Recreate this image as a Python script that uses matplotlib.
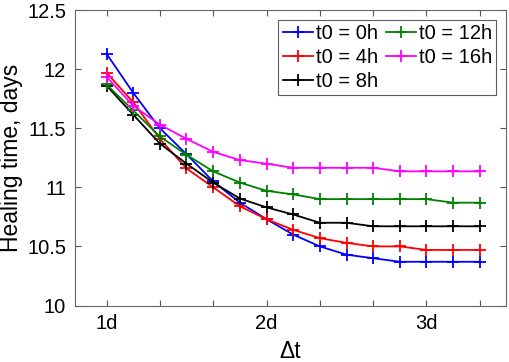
import numpy as np
import matplotlib
matplotlib.use("Agg")
import matplotlib.pyplot as plt

plt.rcParams['font.family'] = ['Liberation Sans', 'DejaVu Sans']

dt = [1 + i / 6 for i in range(15)]
h0 = [12.13, 11.80, 11.50, 11.28, 11.05, 10.87, 10.73, 10.60, 10.50, 10.43, 10.40, 10.37, 10.37, 10.37, 10.37]
h4 = [11.97, 11.72, 11.41, 11.16, 11.00, 10.84, 10.73, 10.64, 10.57, 10.53, 10.50, 10.50, 10.47, 10.47, 10.47]
h8 = [11.86, 11.615, 11.37, 11.20, 11.04, 10.905, 10.83, 10.77, 10.70, 10.70, 10.67, 10.67, 10.67, 10.67, 10.67]
h12 = [11.87, 11.65, 11.43, 11.275, 11.135, 11.04, 10.97, 10.94, 10.90, 10.90, 10.90, 10.90, 10.90, 10.87, 10.87]
h16 = [11.935, 11.69, 11.53, 11.41, 11.30, 11.23, 11.20, 11.165, 11.165, 11.165, 11.165, 11.135, 11.135, 11.135, 11.135]
labels = ['t0 = 0h', 't0 = 4h', 't0 = 8h', 't0 = 12h', 't0 = 16h']
colors = ['#0000ff', '#ff0000', '#000000', '#008000', '#ff00ff']
xtick_vals = [1, 4 / 3, 5 / 3, 2, 7 / 3, 8 / 3, 3, 10 / 3]
xtick_labels = ['1d', '', '', '2d', '', '', '3d', '']
ytick_vals = [10, 10.5, 11, 11.5, 12, 12.5]
ytick_labels = ['10', '10.5', '11', '11.5', '12', '12.5']

fig = plt.figure(figsize=(5.1, 3.62), dpi=100)
ax = fig.add_axes([74.5 / 510, 1 - 305.5 / 362, (506.5 - 74.5) / 510, (305.5 - 10) / 362])

for y, lab, c in zip([h0, h4, h8, h12, h16], labels, colors):
    ax.plot(dt, y, color=c, lw=1.3, marker='+', markersize=8, markeredgewidth=1.3, label=lab)

ax.set_xlim(0.8, 3.5)
ax.set_ylim(10, 12.5)
ax.set_xticks(xtick_vals)
ax.set_xticklabels(xtick_labels)
ax.set_yticks(ytick_vals)
ax.set_yticklabels(ytick_labels)
ax.tick_params(direction='in', top=True, right=True, length=4, width=0.8,
               color='#555555', labelsize=14.5, pad=6)
for s in ax.spines.values():
    s.set_color('#666666')
    s.set_linewidth(0.8)

ax.set_xlabel('Δt', fontsize=16.5, labelpad=5)
ax.set_ylabel('Healing time, days', fontsize=16.5, labelpad=3)

leg = ax.legend(ncol=2, loc='upper right', fontsize=14.5, frameon=True, fancybox=False,
                handlelength=1.5, handletextpad=0.15, columnspacing=0.4, labelspacing=0.25,
                borderpad=0.2, borderaxespad=0.5)
leg.get_frame().set_edgecolor('#333333')
leg.get_frame().set_linewidth(0.8)

fig.savefig('out.png', dpi=100)
